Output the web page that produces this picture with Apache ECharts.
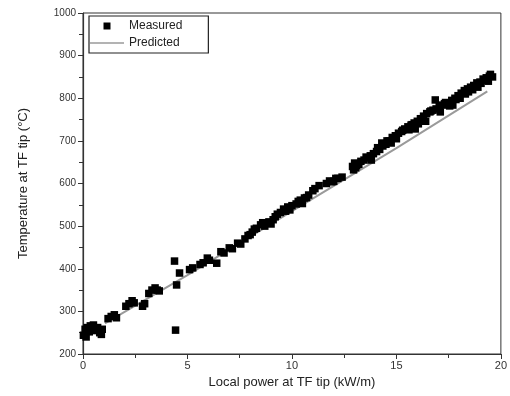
<!DOCTYPE html>
<html><head><meta charset="utf-8">
<script src="https://cdn.jsdelivr.net/npm/echarts@6/dist/echarts.min.js"></script>
<style>html,body{margin:0;padding:0;background:#fff}#c{width:510px;height:396px}</style>
</head><body><div id="c"></div>
<script>
// Measured: local power (kW/m) and temperature (°C)
const measuredPower = [0.02,0.1,0.15,0.2,0.3,0.35,0.45,0.5,0.6,0.7,0.8,0.88,0.92,
 1.2,1.35,1.5,1.6,2.05,2.2,2.35,2.45,2.85,2.95,3.15,3.3,3.45,3.55,3.65,
 4.38,4.43,4.48,4.62,5.1,5.25,5.6,5.75,5.95,6.05,6.4,6.6,6.75,7.0,7.15,7.4,7.55,7.75,7.9,
 8.1,8.3,8.5,8.7,8.9,9.1,9.3,9.45,9.6,9.8,10.0,10.2,10.4,10.6,10.8,11.0,11.1,
 11.65,11.8,12.0,12.2,12.4,12.9,13.0,13.1,13.3,13.45,13.6,13.75,13.9,14.05,14.2,14.35,14.5,14.65,14.8,14.95,
 15.1,15.25,15.4,15.55,15.7,15.85,16.0,16.15,16.3,16.45,16.6,16.75,16.86,16.9,17.05,17.2,17.35,17.5,17.65,17.8,17.95,
 18.1,18.25,18.4,18.55,18.7,18.85,19.0,19.15,19.3,19.4,19.45,19.6,
 14.3,15.0,15.9,16.4,17.1,17.7,18.3,18.9,13.8,12.95,10.5,9.0,8.0,
 8.6,9.2,9.9,10.7,11.3,12.1,13.2,13.55,14.1,14.55,15.3,15.75,16.2,16.65,17.3,17.85,18.45,19.05,19.5,
 8.2,9.7,10.3,11.9,13.05,14.75,15.6,16.05,17.55,18.05,18.65,19.25];
const measuredTemp = [244,258,240,262,252,266,262,268,255,262,250,246,258,
 283,288,292,285,312,318,325,320,312,318,342,350,355,350,348,
 418,256,362,390,398,402,410,414,425,420,413,440,437,449,447,460,458,470,478,
 486,495,503,500,510,515,528,532,540,545,548,552,561,566,573,583,588,
 600,606,605,612,615,640,648,642,652,655,660,665,670,675,680,688,692,700,708,712,
 718,722,728,733,737,742,746,752,758,764,768,772,796,775,780,784,790,788,795,800,806,
 812,818,822,826,830,836,838,845,848,840,852,850,
 695,705,728,746,768,784,810,826,655,632,553,505,480,
 508,522,538,567,595,612,645,662,684,700,725,738,750,770,787,797,815,835,856,
 493,535,558,604,637,695,726,740,782,800,820,842];
// Predicted curve
const predictedPower = [1.05,5,10,15,19.35];
const predictedTemp = [272,385,535,683,816];
// Axis ticks
const xTicks = [0,5,10,15,20];
const yTicks = [200,300,400,500,600,700,800,900,1000];

const measured = measuredPower.map((p,i)=>[p,measuredTemp[i]]);
const predicted = predictedPower.map((p,i)=>[p,predictedTemp[i]]);
const font = 'Liberation Sans, Arial, sans-serif';
const chart = echarts.init(document.getElementById('c'));
chart.setOption({
  animation:false,
  backgroundColor:'#fff',
  grid:{left:83,right:7,top:13,bottom:42,show:true,borderColor:'#333',borderWidth:1},
  legend:{
    left:89, top:16, orient:'vertical', itemWidth:34, itemHeight:7, itemGap:5,
    padding:[4,26,4,1], borderColor:'#222', borderWidth:1.2,
    textStyle:{fontFamily:font,fontSize:12,color:'#222'},
    data:[{name:'Measured',icon:'path://M0,0H1V1H0Z'},{name:'Predicted',icon:'path://M0,0H34V1.4H0Z'}]
  },
  xAxis:{
    type:'value', min:xTicks[0], max:xTicks[xTicks.length-1], interval:5,
    name:'Local power at TF tip (kW/m)', nameLocation:'middle', nameGap:20,
    nameTextStyle:{fontFamily:font,fontSize:13,color:'#222'},
    axisLine:{lineStyle:{color:'#333',width:1.2}},
    axisTick:{show:true,inside:false,length:5,lineStyle:{color:'#333'}},
    minorTick:{show:true,splitNumber:2,length:4,lineStyle:{color:'#333'}},
    splitLine:{show:false},
    axisLabel:{fontFamily:font,fontSize:11,color:'#333',margin:6}
  },
  yAxis:{
    type:'value', min:yTicks[0], max:yTicks[yTicks.length-1], interval:100,
    name:'Temperature at TF tip (°C)', nameLocation:'middle', nameGap:53,
    nameTextStyle:{fontFamily:font,fontSize:13,color:'#222'},
    axisLine:{show:true,lineStyle:{color:'#333',width:1.2}},
    axisTick:{show:true,inside:false,length:5,lineStyle:{color:'#333'}},
    minorTick:{show:true,splitNumber:2,length:4,lineStyle:{color:'#333'}},
    splitLine:{show:false},
    axisLabel:{fontFamily:font,fontSize:10,color:'#333',margin:7,formatter:v=>String(v)}
  },
  series:[
    {name:'Measured',type:'scatter',data:measured,symbol:'rect',symbolSize:7.5,
     itemStyle:{color:'#000',opacity:1},z:3},
    {name:'Predicted',type:'line',data:predicted,smooth:false,showSymbol:false,symbol:'none',
     lineStyle:{color:'#9a9a9a',width:2},itemStyle:{color:'#9a9a9a'},z:2}
  ]
});
</script></body></html>
